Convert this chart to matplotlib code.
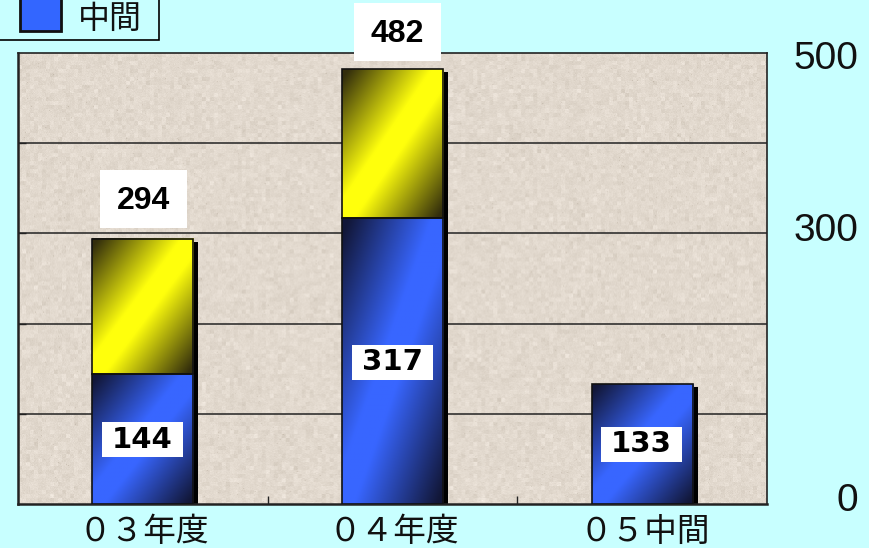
import numpy as np
from matplotlib import pyplot as plt
from matplotlib.patches import Rectangle

np.random.seed(42)

categories = ['０３年度', '０４年度', '０５中間']
interim = [144, 317, 133]
totals = [294, 482, 133]
y_max = 500
grid_values = [100, 200, 300, 400]
right_labels = ['500', '300', '0']
legend_label = '中間'

W, H = 870, 548
CJK = ['Noto Sans CJK JP', 'DejaVu Sans']


def px_rect(x0, y0, x1, y1, **kw):
    # rectangle given in image pixels, y going down
    r = Rectangle((x0 / W, 1 - y1 / H), (x1 - x0) / W, (y1 - y0) / H,
                  transform=fig.transFigure, **kw)
    fig.add_artist(r)
    return r


def px_text(x, y, s, **kw):
    return fig.text(x / W, 1 - y / H, s, ha='center', va='center', **kw)


def texture():
    base = np.array([226, 217, 206]) / 255
    h, w = 225, 375
    fine = np.random.normal(0, 1, (h * 2, w * 2))
    coarse = np.kron(np.random.normal(0, 1, (h // 2 + 1, w // 2 + 1)), np.ones((4, 4)))[:h * 2, :w * 2]
    n = 0.010 * fine + 0.014 * coarse
    spots = np.random.random((h * 2, w * 2)) > 0.998
    n = n - 0.07 * spots
    return np.clip(base[None, None, :] + n[:, :, None] * np.array([1, 1.05, 1.15]), 0, 1)


def gradient_bar(patch, bright, dark):
    x0, y0 = patch.get_x(), patch.get_y()
    x1, y1 = x0 + patch.get_width(), y0 + patch.get_height()
    u, v = np.meshgrid(np.linspace(0, 1, 100), np.linspace(0, 1, 100))
    t = np.abs(u + v - 1)
    # bright diagonal from lower left to upper right, dark in the other two corners
    t = np.clip((t - 0.12) / 0.82, 0, 1)[:, :, None]
    img = np.array(bright)[None, None, :] * (1 - t) + np.array(dark)[None, None, :] * t
    ax.imshow(img, extent=(x0, x1, y0, y1), origin='upper', aspect='auto',
              zorder=patch.get_zorder() + 0.1, interpolation='bilinear')
    ax.add_patch(Rectangle((x0, y0), x1 - x0, y1 - y0, fill=False, ec='#111111', lw=1.2,
                           zorder=patch.get_zorder() + 0.2))


fig = plt.figure(figsize=(W / 100, H / 100), dpi=100, facecolor='#C8FFFF')
ax = fig.add_axes([18 / W, 1 - 504 / H, (767 - 18) / W, (504 - 53) / H])
ax.imshow(texture(), extent=(-0.5, 2.5, 0, y_max), aspect='auto', zorder=0)
ax.set_xlim(-0.5, 2.5)
ax.set_ylim(0, y_max)

for v in grid_values:
    ax.axhline(v, color='#222222', lw=1.1, zorder=1)

xs = np.arange(len(categories))
width = 0.405
upper = [t - m for t, m in zip(totals, interim)]
shadow_dx = 5 / (749 / 3)
shadow_drop = 3 * y_max / 451

# shadow behind each stack
ax.bar(xs + shadow_dx, [t - shadow_drop for t in totals], width, color='black', zorder=2)

for x, m, u in zip(xs, interim, upper):
    low = ax.bar(x, m, width, color='#3366FF', zorder=3)[0]
    gradient_bar(low, (0.22, 0.40, 1.0), (0.07, 0.09, 0.22))
    if u > 0:
        top = ax.bar(x, u, width, bottom=m, color='#FFFF00', zorder=3)[0]
        gradient_bar(top, (1.0, 1.0, 0.05), (0.20, 0.18, 0.05))

ax.set_xticks([0.5, 1.5])
ax.set_xticklabels([])
ax.set_yticks(grid_values)
ax.set_yticklabels([])
ax.tick_params(axis='both', direction='in', length=6, width=1, color='#222222')
for s in ax.spines.values():
    s.set_color('#222222')
    s.set_linewidth(1.2)
ax.spines['left'].set_linewidth(1.8)
ax.spines['bottom'].set_linewidth(1.8)

# category labels under the axis
for cx, c in zip([144, 394, 645], categories):
    px_text(cx, 532, c, fontsize=23.5, family=CJK, color='#111111')

# value labels in white boxes
tall_boxes = [(100, 170, 187, 228, totals[0]), (354, 3, 441, 61, totals[1])]
for x0, y0, x1, y1, v in tall_boxes:
    px_rect(x0, y0, x1, y1, fc='white', ec='none', zorder=5)
    px_text((x0 + x1) / 2, (y0 + y1) / 2 + 2, str(v), fontsize=23, family='Liberation Sans',
            fontweight='bold', zorder=6, color='black')

wide_boxes = [(102, 422, 183, 457, interim[0]), (352, 345, 433, 380, interim[1]), (601, 427, 682, 462, interim[2])]
for x0, y0, x1, y1, v in wide_boxes:
    px_rect(x0, y0, x1, y1, fc='white', ec='none', zorder=5)
    px_text((x0 + x1) / 2, (y0 + y1) / 2, str(v), fontsize=21, family='DejaVu Sans',
            fontweight='bold', zorder=6)

# right hand axis labels
for cy, s in zip([59, 231, 501], right_labels):
    fig.text(858 / W, 1 - cy / H, s, ha='right', va='center', fontsize=28,
             family='Liberation Sans', color='#111111')

# legend box runs off the top of the picture
px_rect(-5, -20, 159, 40, fc='#C8FFFF', ec='black', lw=1.2, zorder=4)
px_rect(20, -5, 61, 31, fc='#3366FF', ec='#111111', lw=2, zorder=5)
px_text(110, 19, legend_label, fontsize=23, family=CJK, color='#111111', zorder=6)

fig.savefig('out.png', dpi=100)
